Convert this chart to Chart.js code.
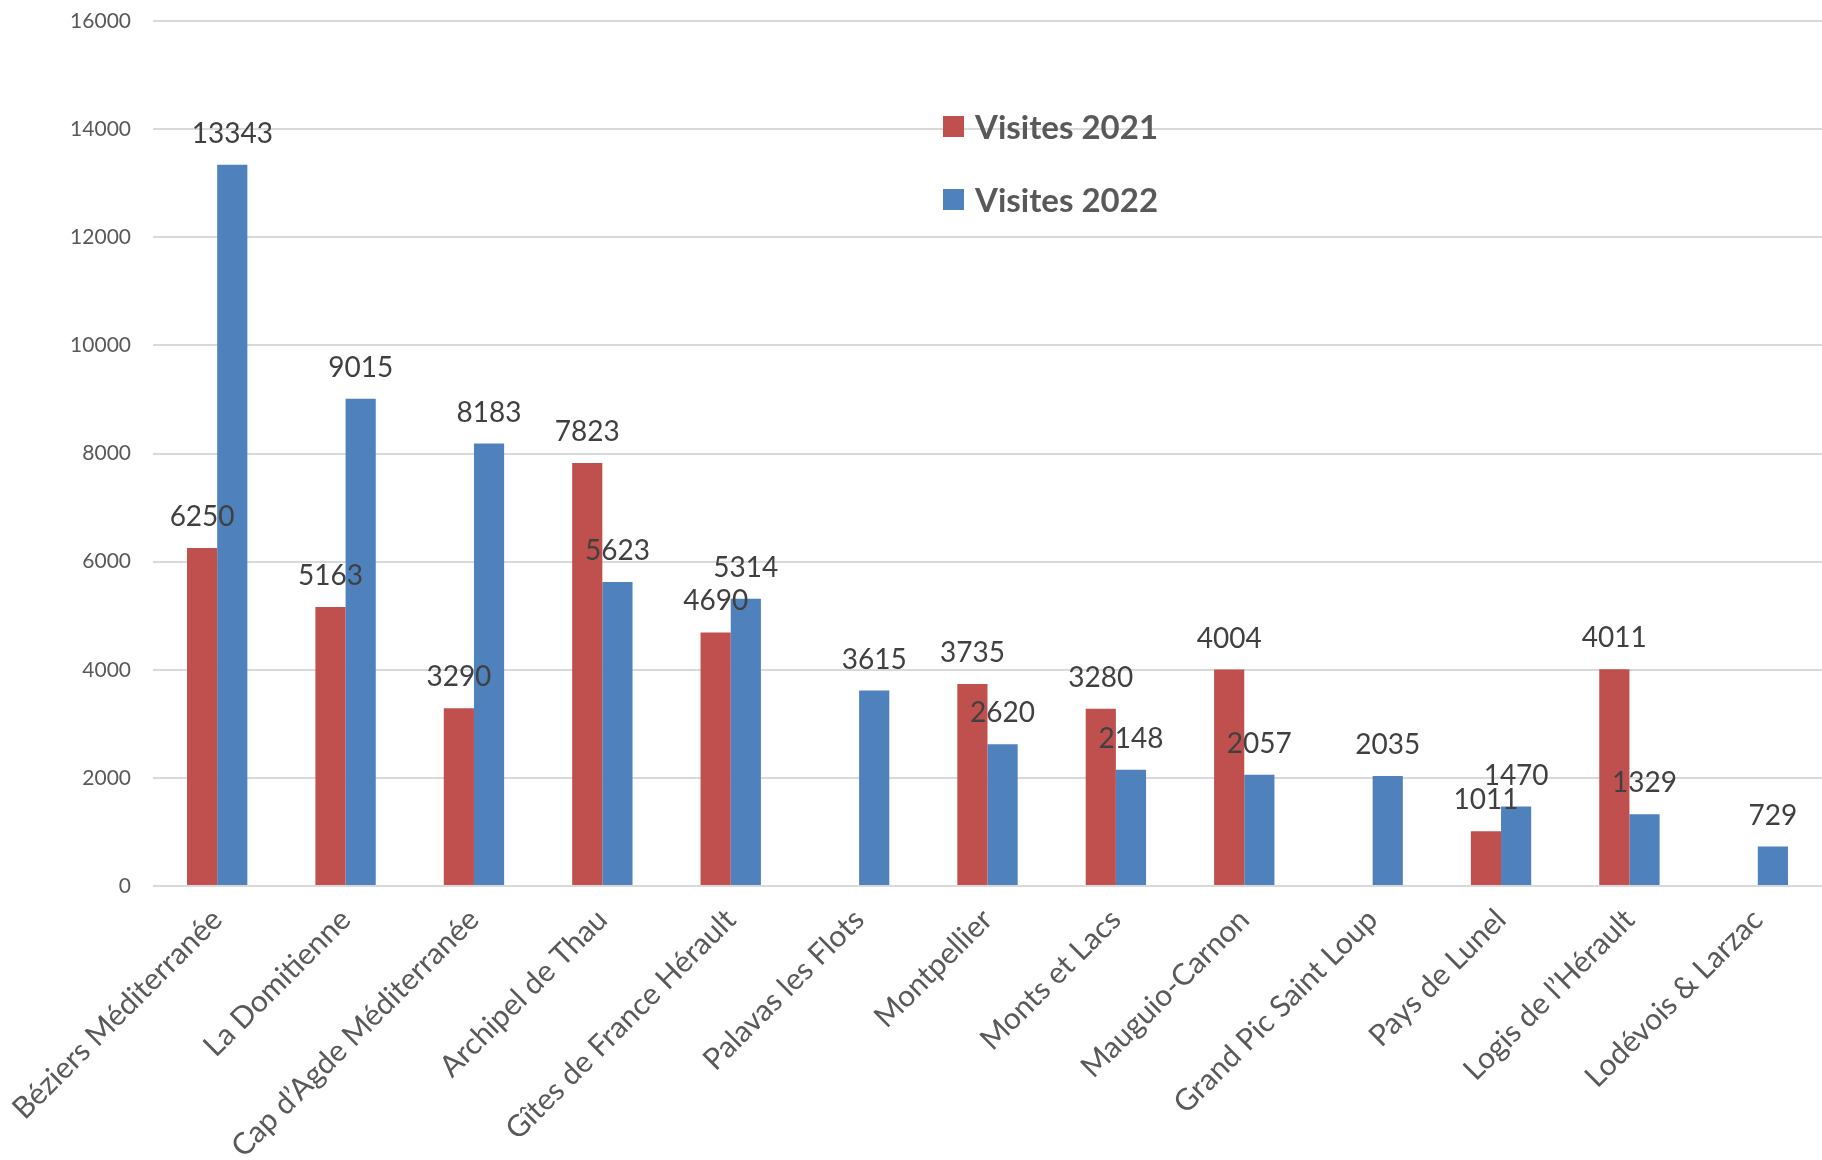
<html>
<head>
<meta charset="utf-8">
<script src="https://cdn.jsdelivr.net/npm/chart.js@4.4.0/dist/chart.umd.min.js"></script>
<style>
    body { margin: 0; background: #fff; overflow: hidden; }
    #wrap { position: relative; width: 1822px; height: 1160px; overflow: hidden; }
    #legend { position: absolute; left: 943px; top: 104px; font-family: Lato, sans-serif; font-weight: bold; font-size: 33px; color: #595959; }
    .item { display: flex; align-items: center; height: 44px; margin-bottom: 29px; }
    .box { width: 21px; height: 21px; margin-right: 11px; }
</style>
</head>
<body>
<div id="wrap">
    <canvas id="myChart" width="1822" height="1160"></canvas>
    <div id="legend"></div>
</div>
<script>
    var categories = ["Béziers Méditerranée", "La Domitienne", "Cap d’Agde Méditerranée", "Archipel de Thau",
        "Gîtes de France Hérault", "Palavas les Flots", "Montpellier", "Monts et Lacs", "Mauguio-Carnon",
        "Grand Pic Saint Loup", "Pays de Lunel", "Logis de l’Hérault", "Lodévois & Larzac"]
    var visites2021 = [6250, 5163, 3290, 7823, 4690, null, 3735, 3280, 4004, null, 1011, 4011, null]
    var visites2022 = [13343, 9015, 8183, 5623, 5314, 3615, 2620, 2148, 2057, 2035, 1470, 1329, 729]
    var yTicks = [0, 2000, 4000, 6000, 8000, 10000, 12000, 14000, 16000]

    // value labels above each bar, like the excel data labels
    const valueLabels = {
        id: 'valueLabels',
        afterDatasetsDraw(chart) {
            let ctx = chart.ctx
            ctx.save()
            ctx.font = '28px Lato'
            ctx.fillStyle = '#404040'
            ctx.textAlign = 'center'
            ctx.textBaseline = 'middle'
            chart.data.datasets.forEach((ds, i) => {
                chart.getDatasetMeta(i).data.forEach((bar, j) => {
                    if (ds.data[j] == null) return
                    ctx.fillText(ds.data[j], bar.x, bar.y - 31)
                })
            })
            ctx.restore()
        }
    }

    let chart = new Chart(document.getElementById('myChart'), {
        type: 'bar',
        data: {
            labels: categories,
            datasets: [
                { label: 'Visites 2021', data: visites2021, backgroundColor: '#C0504D' },
                { label: 'Visites 2022', data: visites2022, backgroundColor: '#4F81BD' }
            ]
        },
        options: {
            responsive: false,
            animation: false,
            layout: { padding: { top: 21, right: -6, left: 0, bottom: 0 } },
            datasets: { bar: { barPercentage: 1, categoryPercentage: 0.47 } },
            plugins: { legend: { display: false }, tooltip: { enabled: false } },
            scales: {
                x: {
                    grid: { display: false },
                    border: { display: false },
                    ticks: {
                        color: '#595959',
                        font: { family: 'Lato', size: 30 },
                        minRotation: 45, maxRotation: 45,
                        padding: 8, autoSkip: false
                    },
                    afterFit: (scale) => { scale.height = 274; scale.paddingLeft = 0; scale.paddingRight = 0 }
                },
                y: {
                    min: 0, max: 16000,
                    afterBuildTicks: (scale) => { scale.ticks = yTicks.map(v => ({ value: v })) },
                    grid: { color: '#D9D9D9', lineWidth: 2, drawTicks: false },
                    border: { display: false },
                    ticks: {
                        color: '#595959', font: { family: 'Lato', size: 21 }, padding: 22,
                        callback: (v) => String(v)
                    },
                    afterFit: (scale) => { scale.width = 153; scale.paddingTop = 0; scale.paddingBottom = 0 }
                }
            }
        },
        plugins: [valueLabels]
    })

    // legend built from the datasets, placed inside the plot
    chart.data.datasets.forEach(ds => {
        let item = document.createElement('div')
        item.className = 'item'
        item.innerHTML = '<span class="box" style="background:' + ds.backgroundColor + '"></span>' + ds.label
        document.getElementById('legend').appendChild(item)
    })
</script>
</body>
</html>
